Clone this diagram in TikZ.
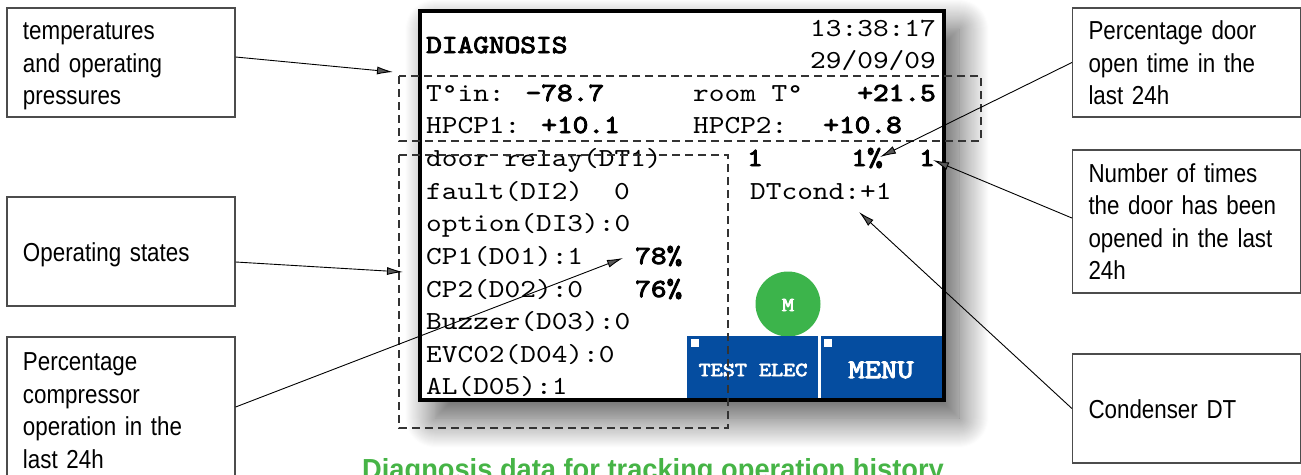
\documentclass[tikz,border=0pt]{standalone}
\usepackage{fontspec}
\usetikzlibrary{arrows.meta,shadows.blur}
\newfontfamily\lcdfont{lmmono10-regular}[Extension=.otf,BoldFont=lmmono10-regular,BoldFeatures={FakeBold=3.5},FakeStretch=1.15]
\newfontfamily\notefont{Liberation Sans}[FakeStretch=0.86]
\newfontfamily\capfont{Liberation Sans}[FakeStretch=0.94]
\definecolor{lcdblue}{RGB}{5,77,160}
\definecolor{okgreen}{RGB}{60,180,75}
\definecolor{capgreen}{RGB}{70,180,70}

\begin{document}
\begin{tikzpicture}[x=1pt,y=-1pt,
lcd/.style={font=\lcdfont\fontsize{26}{26}\selectfont, inner sep=0pt, anchor=base west},
key/.style={font=\lcdfont\bfseries\fontsize{#1}{#1}\selectfont, inner sep=0pt, text=white},
note/.style={draw=black!70, line width=1.2pt, inner xsep=16pt, inner ysep=0pt, text width=196pt, align=left, minimum height=109pt, font=\notefont\fontsize{26}{32.5}\selectfont, execute at begin node={\rule{0pt}{25pt}}, execute at end node={\rule[-6pt]{0pt}{6pt}}},
zone/.style={draw=black!80, line width=1.6pt, dash pattern=on 8pt off 5pt},
arr/.style={-{Latex[length=16pt,width=8pt]}, line width=0.9pt}]
\useasboundingbox (0,0) rectangle (1301,474);

\draw [line width=4pt, fill=white, blur shadow={shadow xshift=15pt, shadow yshift=-18pt, shadow blur radius=30pt, shadow blur steps=30, shadow opacity=68}] (420,11) rectangle (944,400);

\node [lcd] (title) at (426,53) {\bfseries DIAGNOSIS};
\node [lcd, anchor=base east] (clock) at (936,36) {13:38:17};
\node [lcd, anchor=base east] (date) at (936,68) {29/09/09};
\node [lcd] (tin) at (426,101) {T°in: \textbf{-78.7}};
\node [lcd] (troom) at (693,101) {room T°};
\node [lcd, anchor=base east] (vroom) at (936,101) {\bfseries +21.5};
\node [lcd] (hp1) at (426,133) {HPCP1: \textbf{+10.1}};
\node [lcd] (hp2) at (693,133) {HPCP2:};
\node [lcd, anchor=base east] (vhp2) at (902,133) {\bfseries +10.8};

\node [lcd] (door) at (426,166) {door relay(DT1)};
\node [lcd] (fault) at (426,199) {fault(DI2)};
\node [lcd] (faultv) at (614,199) {0};
\node [lcd] (option) at (426,231) {option(DI3):0};
\node [lcd] (cp1) at (426,264) {CP1(D01):1};
\node [lcd] (cp2) at (426,297) {CP2(D02):0};
\node [lcd] (buzz) at (426,329) {Buzzer(D03):0};
\node [lcd] (evc) at (426,362) {EVC02(D04):0};
\node [lcd] (al) at (426,394) {AL(D05):1};
\node [lcd] (pcp1) at (635,264) {\bfseries 78\%};
\node [lcd] (pcp2) at (635,297) {\bfseries 76\%};

\node [lcd] (nopen) at (747,166) {\bfseries 1};
\node [lcd, anchor=base east] (popen) at (883,166) {\bfseries 1\%};
\node [lcd] (ncount) at (919,166) {\bfseries 1};
\node [lcd] (dtcond) at (750,199) {DTcond:+1};

\fill [okgreen] (788,304) circle (32.5pt);
\node [key=20] (mode) at (788,305) {M};
\fill [lcdblue] (687,336) rectangle (818,398);
\fill [lcdblue] (821,336) rectangle (942,398);
\fill [white] (691,339) rectangle (699,347);
\fill [white] (824,339) rectangle (832,347);
\node [key=20] (test) at (753,370) {TEST ELEC};
\node [key=27] (menu) at (881,370) {MENU};

\draw [zone] (399,76) rectangle (981,141);
\draw [zone] (399,155) rectangle (728,428);

\node [note] (temps) at (121,62.5) {temperatures\\and operating\\pressures};
\node [note] (states) at (121,251.5) {Operating states};
\node [note, minimum height=146pt] (comp) at (121,410) {Percentage\\compressor\\operation in the\\last 24h};
\node [note] (dooropen) at (1186.5,62.5) {Percentage door\\open time in the\\last 24h};
\node [note, minimum height=143pt] (doorcount) at (1186.5,221.5) {Number of times\\the door has been\\opened in the last\\24h};
\node [note] (cond) at (1186.5,408.5) {Condenser DT};

\coordinate (zonetemp) at (393,72);
\coordinate (zonestate) at (403,272);
\coordinate (pcttip) at (623,258);
\coordinate (opentip) at (880,157);
\coordinate (counttip) at (933,160);
\coordinate (condtip) at (859,212);

\draw [arr] ([yshift=5.5pt]temps.east) -- (zonetemp);
\draw [arr] ([yshift=-10.5pt]states.east) -- (zonestate);
\draw [arr] ([yshift=3pt]comp.east) -- (pcttip);
\draw [arr] (dooropen.west) -- (opentip);
\draw [arr] ([yshift=3.5pt]doorcount.west) -- (counttip);
\draw [arr] (cond.west) -- (condtip);

\node [font=\capfont\bfseries\fontsize{29}{29}\selectfont, text=capgreen, inner sep=0pt, anchor=base west] (caption) at (362,479) {Diagnosis data for tracking operation history};
\end{tikzpicture}
\end{document}
